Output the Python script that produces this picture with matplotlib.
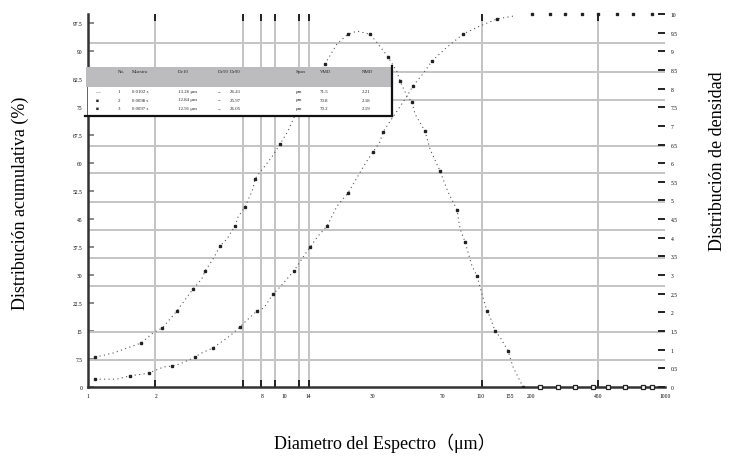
import numpy as np
import matplotlib.pyplot as plt
from matplotlib.ticker import FixedLocator, NullFormatter
from matplotlib.patches import Rectangle
from matplotlib.lines import Line2D

plt.rcParams['font.family'] = ['Liberation Serif', 'Noto Sans CJK SC']

# curva de densidad (eje derecho)
dens_x = [1.09, 1.35, 1.89, 2.20, 2.43, 2.73, 2.90, 3.27, 3.52, 3.91,
          4.06, 4.47, 4.86, 5.28, 5.81, 6.03, 6.55, 7.21, 7.38, 9.05,
          9.96, 10.96, 12.66, 14.27, 17.07, 19.71, 22.47, 25.03, 29.26, 32.2,
          36.29, 40.43, 41.9, 45.57, 48.37, 50.14, 56.5, 60.0, 67.66, 74.4,
          82.9, 85.97, 91.26, 99.2, 105.3, 111.8, 118.7, 123.1, 130.7, 138.8,
          152.7, 162.1, 182.7]
dens_y = [0.80, 0.91, 1.18, 1.47, 1.58, 1.88, 2.04, 2.41, 2.63, 2.90,
          3.11, 3.43, 3.78, 3.97, 4.32, 4.56, 4.83, 5.31, 5.58, 6.17,
          6.51, 6.86, 7.59, 7.99, 8.66, 9.20, 9.46, 9.54, 9.46, 9.20,
          8.85, 8.45, 8.20, 7.80, 7.64, 7.32, 6.86, 6.38, 5.79, 5.23,
          4.75, 4.24, 3.89, 3.24, 2.98, 2.49, 2.04, 1.88, 1.50, 1.34,
          0.97, 0.54, 0.0]
dens_tail_x = [224, 278, 340, 422, 505, 620, 769, 856]
dens_tail_y = [0, 0, 0, 0, 0, 0, 0, 0]

# curva acumulativa (eje izquierdo)
cum_x = [1.09, 1.41, 1.65, 1.95, 2.08, 2.48, 2.73, 3.01, 3.60, 3.82,
         4.47, 5.47, 6.17, 6.63, 7.57, 8.22, 9.16, 9.96, 11.76, 12.93,
         14.27, 15.73, 17.52, 19.71, 22.47, 27.94, 30.34, 32.94, 34.2, 45.6,
         48.9, 55.0, 61.5, 71.6, 89.1, 109.3, 134.1, 165.5]
cum_y = [2.1, 2.1, 3.0, 3.5, 3.8, 5.4, 5.6, 6.2, 8.0, 8.9,
         10.5, 13.7, 16.1, 17.7, 20.4, 21.2, 24.9, 26.8, 31.1, 34.3,
         37.5, 40.5, 43.2, 48.5, 52.0, 60.3, 63.0, 65.7, 68.4, 78.0,
         80.7, 83.9, 87.4, 90.6, 94.6, 96.8, 98.7, 99.5]
cum_top_x = [203, 252, 302, 370, 448, 563, 682, 856]
cum_top_y = [100, 100, 100, 100, 100, 100, 100, 100]

# rejilla y marcas
grid_x = [2.23, 6.4, 7.93, 9.38, 12.5, 14.1, 112, 155, 448]
grid_y = [7.2, 14.7, 27.1, 34.6, 42.1, 49.6, 57.4, 64.6, 76.9, 84.5, 92.2]
xtick_vals = [1, 2.25, 8, 10.5, 14, 30, 70, 110, 155, 200, 450, 1000]
xtick_labels = ['1', '2', '8', '10', '14', '30', '70', '110', '155', '200', '450', '1000']
ytick_left = np.arange(0, 98, 7.5)
ytick_right = np.arange(0, 10.01, 0.5)

# tabla de resultados
tbl_header = ['No.', 'Muestra', 'Dv10', 'Dv50', 'Dv90', 'Span', 'VMD', 'NMD']
tbl_rows = [['1', '0.0102 s', '13.26 μm', '=', '26.41', 'μm', '71.5', '2.21'],
            ['2', '0.0098 s', '12.84 μm', '=', '25.97', 'μm', '70.8', '2.18'],
            ['3', '0.0097 s', '12.91 μm', '=', '26.05', 'μm', '70.2', '2.19']]
tbl_cols = [118, 132, 178, 218, 230, 296, 320, 362]

W, H = 734, 460
fig = plt.figure(figsize=(W / 100, H / 100), dpi=100)
ax = fig.add_axes([88 / W, 72 / H, 577 / W, 373 / H])
ax2 = ax.twinx()


def px(x, y):
    return x / W, 1 - y / H


ax.set_xscale('log')
ax.set_xlim(1, 1000)
ax.set_ylim(0, 100)
ax2.set_ylim(0, 10)
ax.set_axisbelow(True)

ax.xaxis.set_major_locator(FixedLocator(xtick_vals))
ax.set_xticklabels(xtick_labels)
ax.xaxis.set_minor_locator(FixedLocator(grid_x))
ax.xaxis.set_minor_formatter(NullFormatter())
ax.tick_params(axis='x', which='major', length=0, labelsize=4, pad=4)
ax.tick_params(axis='x', which='minor', direction='in', length=5, width=1.4,
               color='#222222', top=True, bottom=True)
ax.yaxis.set_minor_locator(FixedLocator(grid_y))
ax.set_yticks(ytick_left)
ax.set_yticklabels([f'{v:g}' for v in ytick_left])
ax.tick_params(axis='y', which='major', direction='in', length=4, width=1.2,
               color='#777777', labelsize=4, pad=4)
ax.tick_params(axis='y', which='minor', length=0)
ax.grid(which='minor', color='#c4c4c4', lw=1.4)

ax2.set_yticks(ytick_right)
ax2.set_yticklabels([f'{v:g}' for v in ytick_right])
ax2.tick_params(axis='y', direction='in', length=5, width=1.4, color='#222222',
                labelsize=4, pad=4)

for s in ['top', 'right']:
    ax.spines[s].set_visible(False)
for s in ax2.spines.values():
    s.set_visible(False)
for s in ['left', 'bottom']:
    ax.spines[s].set_linewidth(1.8)
    ax.spines[s].set_color('#333333')

# curvas
ax.plot(cum_x, cum_y, ls=(0, (1, 3)), lw=0.8, color='#555555',
        marker='s', ms=2.0, mfc='#222222', mec='#222222', markevery=2)
ax.plot(cum_top_x, cum_top_y, ls='none', marker='s', ms=1.8, color='#222222',
        clip_on=False)
ax2.plot(dens_x, dens_y, ls=(0, (1, 3)), lw=0.8, color='#555555',
         marker='s', ms=2.0, mfc='#222222', mec='#222222', markevery=2)
ax2.plot(dens_tail_x, dens_tail_y, ls='none', marker='s', ms=2.2,
         mfc='white', mec='#222222', mew=0.9, clip_on=False)

# tabla (encima del grafico)
fig.add_artist(Rectangle(px(88, 117), 303 / W, 29 / H, transform=fig.transFigure,
                         facecolor='white', edgecolor='none', zorder=5))
fig.add_artist(Rectangle(px(86, 88), 305 / W, 20 / H, transform=fig.transFigure,
                         facecolor='#bcbcbe', edgecolor='none', zorder=5))
fig.add_artist(Line2D([85 / W, 392 / W], [1 - 117 / H] * 2, transform=fig.transFigure,
                      color='#111111', lw=1.6, zorder=6))
fig.add_artist(Line2D([392 / W] * 2, [1 - 67 / H, 1 - 117 / H], transform=fig.transFigure,
                      color='#111111', lw=1.6, zorder=6))
for c, h in zip(tbl_cols, tbl_header):
    fig.text(*px(c, 72), h, fontsize=3.5, ha='left', va='center', color='#222222', zorder=7)
for i, row in enumerate(tbl_rows):
    y = 92 + 8.5 * i
    fig.text(*px(97, y), '—' if i == 0 else '■', fontsize=3.5, ha='center', va='center',
             color='#222222', zorder=7)
    for c, v in zip(tbl_cols, row):
        fig.text(*px(c, y), v, fontsize=3.5, ha='left', va='center', color='#222222', zorder=7)

# titulos de ejes
fig.text(*px(20, 203), 'Distribución acumulativa (%)', rotation=90, fontsize=13,
         ha='center', va='center')
fig.text(*px(717, 161), 'Distribución de densidad', rotation=90, fontsize=13,
         ha='center', va='center')
fig.text(*px(385, 443), 'Diametro del Espectro（μm）', fontsize=13,
         ha='center', va='center')

fig.savefig('out.png', dpi=100)
